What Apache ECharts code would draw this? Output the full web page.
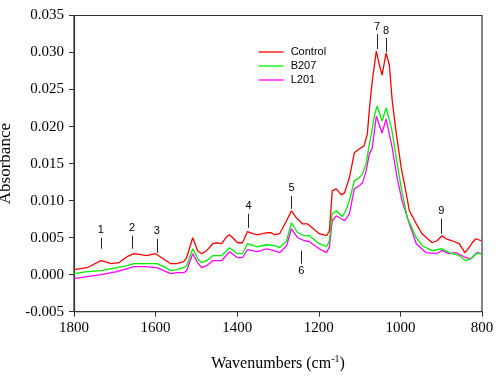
<!DOCTYPE html>
<html>
<head>
<meta charset="utf-8">
<script src="https://cdn.jsdelivr.net/npm/echarts@6/dist/echarts.min.js"></script>
<style>html,body{margin:0;padding:0;background:#fff}#c{width:500px;height:384px}</style>
</head>
<body>
<div id="c"></div>
<script>
// ---- Data ----
const controlWn = [1800,1768,1734,1724,1710,1690,1670,1653,1636,1622,1600,1585,1563,1548,1531,1524,1509,1497,1487,1475,1460,1448,1438,1426,1419,1411,1399,1387,1375,1362,1350,1338,1328,1316,1309,1296,1279,1267,1255,1240,1228,1216,1199,1181,1174,1167,1157,1145,1137,1125,1113,1101,1089,1081,1076,1069,1059,1052,1045,1040,1035,1027,1020,1010,998,986,978,961,947,922,910,898,888,873,856,842,832,824,815,802];
const controlAbs = [0.00067,0.00094,0.00189,0.00175,0.00148,0.00162,0.00243,0.00283,0.00270,0.00256,0.00283,0.00229,0.00148,0.00148,0.00175,0.00229,0.00499,0.00324,0.00283,0.00324,0.00418,0.00431,0.00418,0.00512,0.00539,0.00499,0.00431,0.00431,0.00580,0.00553,0.00539,0.00553,0.00566,0.00566,0.00539,0.00553,0.00728,0.00863,0.00768,0.00687,0.00687,0.00634,0.00553,0.00526,0.00593,0.01132,0.01159,0.01078,0.01105,0.01308,0.01645,0.01698,0.01739,0.01901,0.02238,0.02615,0.03020,0.02844,0.02696,0.02844,0.02993,0.02831,0.02346,0.01901,0.01442,0.01105,0.00863,0.00687,0.00553,0.00431,0.00458,0.00526,0.00485,0.00458,0.00418,0.00297,0.00364,0.00431,0.00485,0.00458];

const b207Wn = [1800,1768,1734,1695,1670,1653,1626,1597,1580,1563,1548,1531,1524,1509,1497,1487,1475,1460,1438,1419,1399,1387,1375,1350,1328,1309,1296,1279,1267,1252,1235,1223,1199,1181,1174,1167,1157,1142,1132,1125,1113,1101,1093,1084,1076,1071,1064,1057,1045,1035,1022,1010,998,983,961,947,922,898,881,856,839,827,815,802];
const b207Abs = [0.00013,0.00040,0.00054,0.00094,0.00121,0.00148,0.00148,0.00148,0.00108,0.00054,0.00067,0.00094,0.00121,0.00350,0.00216,0.00162,0.00189,0.00256,0.00256,0.00364,0.00283,0.00283,0.00418,0.00377,0.00404,0.00391,0.00364,0.00458,0.00701,0.00566,0.00526,0.00526,0.00418,0.00377,0.00458,0.00822,0.00863,0.00782,0.00890,0.00998,0.01267,0.01308,0.01361,0.01496,0.01766,0.01901,0.02143,0.02278,0.02076,0.02251,0.01982,0.01577,0.01173,0.00768,0.00499,0.00391,0.00324,0.00350,0.00297,0.00256,0.00189,0.00216,0.00283,0.00283];

const l201Wn = [1800,1768,1734,1695,1670,1653,1626,1597,1580,1563,1548,1531,1524,1509,1497,1487,1475,1460,1438,1419,1399,1387,1375,1350,1328,1309,1296,1279,1267,1252,1235,1223,1199,1181,1174,1167,1157,1137,1125,1113,1101,1093,1084,1076,1069,1059,1045,1035,1020,1008,996,978,961,937,912,898,881,864,839,827,812,802];
const l201Abs = [-0.00054,-0.00027,0.00000,0.00040,0.00081,0.00108,0.00108,0.00094,0.00054,0.00013,0.00027,0.00027,0.00054,0.00283,0.00162,0.00094,0.00121,0.00189,0.00189,0.00310,0.00229,0.00229,0.00337,0.00310,0.00350,0.00324,0.00297,0.00391,0.00620,0.00499,0.00458,0.00445,0.00350,0.00297,0.00377,0.00728,0.00795,0.00728,0.00822,0.01159,0.01200,0.01240,0.01402,0.01631,0.01712,0.02143,0.01914,0.02103,0.01712,0.01308,0.00998,0.00687,0.00418,0.00297,0.00283,0.00324,0.00283,0.00297,0.00229,0.00216,0.00297,0.00283];

const seriesNames = ['Control','B207','L201'];
const xTicks = [800,1000,1200,1400,1600,1800];
const yTicks = [-0.005,0,0.005,0.010,0.015,0.020,0.025,0.030,0.035];

// band annotations: label, wavenumber, line start value, line end value (label drawn at end)
const bandLabels = ['1','2','3','4','5','6','7','8','9'];
const bandWn     = [1734,1658,1597,1372,1267,1243,1057,1035,900];
const bandFrom   = [0.00350,0.00350,0.00297,0.00634,0.00890,0.00324,0.03046,0.03006,0.00553];
const bandTo     = [0.00499,0.00526,0.00485,0.00822,0.01065,0.00148,0.03249,0.03195,0.00755];

const pairs = (xs, ys) => xs.map((x,i)=>[x, ys[i]]);
const colors = ['#ff0000','#00ee00','#ff00ff'];

const markData = bandLabels.map((lab,i)=>[
  {coord:[bandWn[i], bandFrom[i]], name: lab},
  {coord:[bandWn[i], bandTo[i]]}
]);

const chart = echarts.init(document.getElementById('c'), null, {renderer:'canvas'});
const serif = '"Liberation Serif","Times New Roman",serif';
const sans = '"Liberation Sans",Arial,sans-serif';
chart.setOption({
  animation:false,
  backgroundColor:'#fff',
  grid:{left:74,right:18,top:15.5,bottom:72.3,containLabel:false,outerBoundsMode:'none',
        show:true,borderColor:'#333',borderWidth:1.2,backgroundColor:'transparent'},
  legend:{
    data:seriesNames, orient:'vertical', left:253, top:40,
    itemWidth:25, itemHeight:14, itemGap:0,
    itemStyle:{opacity:0},
    lineStyle:{width:1.3},
    textStyle:{fontFamily:sans,fontSize:11,color:'#000',lineHeight:14,padding:[0,0,0,2]}
  },
  xAxis:{
    type:'value', inverse:true, min:800, max:1800, interval:200,
    name:'{a|Wavenumbers (cm}{s|-1}{a|)}', nameLocation:'middle', nameGap:43,
    nameTextStyle:{rich:{a:{fontFamily:serif,fontSize:16,color:'#000'},s:{fontFamily:serif,fontSize:10,color:'#000',verticalAlign:'top',padding:[0,0,8,0]}}},
    axisLine:{show:true,onZero:false,lineStyle:{color:'#333',width:1.2}},
    axisTick:{show:true,inside:false,length:5,lineStyle:{color:'#333'}},
    axisLabel:{fontFamily:serif,fontSize:15,color:'#000',margin:9,
      formatter:v=>xTicks.includes(v)?String(v):''},
    splitLine:{show:false}
  },
  yAxis:{
    type:'value', min:-0.005, max:0.035, interval:0.005,
    name:'Absorbance', nameLocation:'middle', nameGap:51, nameRotate:90,
    nameTextStyle:{fontFamily:serif,fontSize:17,color:'#000'},
    axisLine:{show:true,onZero:false,lineStyle:{color:'#333',width:1.2}},
    axisTick:{show:true,inside:false,length:5,lineStyle:{color:'#333'}},
    axisLabel:{fontFamily:serif,fontSize:15,color:'#000',margin:10,
      formatter:v=>{const t=yTicks.find(k=>Math.abs(k-v)<1e-9);return t===undefined?'':t.toFixed(3);}},
    splitLine:{show:false}
  },
  series:[
    {name:seriesNames[0],type:'line',data:pairs(controlWn,controlAbs),symbol:'none',smooth:false,
     lineStyle:{color:colors[0],width:1.3},itemStyle:{color:colors[0]},z:3,
     markLine:{silent:true,symbol:['none','none'],animation:false,
       lineStyle:{color:'#222',width:1,type:'solid'},
       label:{show:true,position:'end',formatter:'{b}',fontFamily:sans,fontSize:11,color:'#000',distance:2},
       emphasis:{disabled:true},
       data:markData}},
    {name:seriesNames[1],type:'line',data:pairs(b207Wn,b207Abs),symbol:'none',
     lineStyle:{color:colors[1],width:1.3},itemStyle:{color:colors[1]},z:2},
    {name:seriesNames[2],type:'line',data:pairs(l201Wn,l201Abs),symbol:'none',
     lineStyle:{color:colors[2],width:1.3},itemStyle:{color:colors[2]},z:1}
  ]
});
</script>
</body>
</html>
